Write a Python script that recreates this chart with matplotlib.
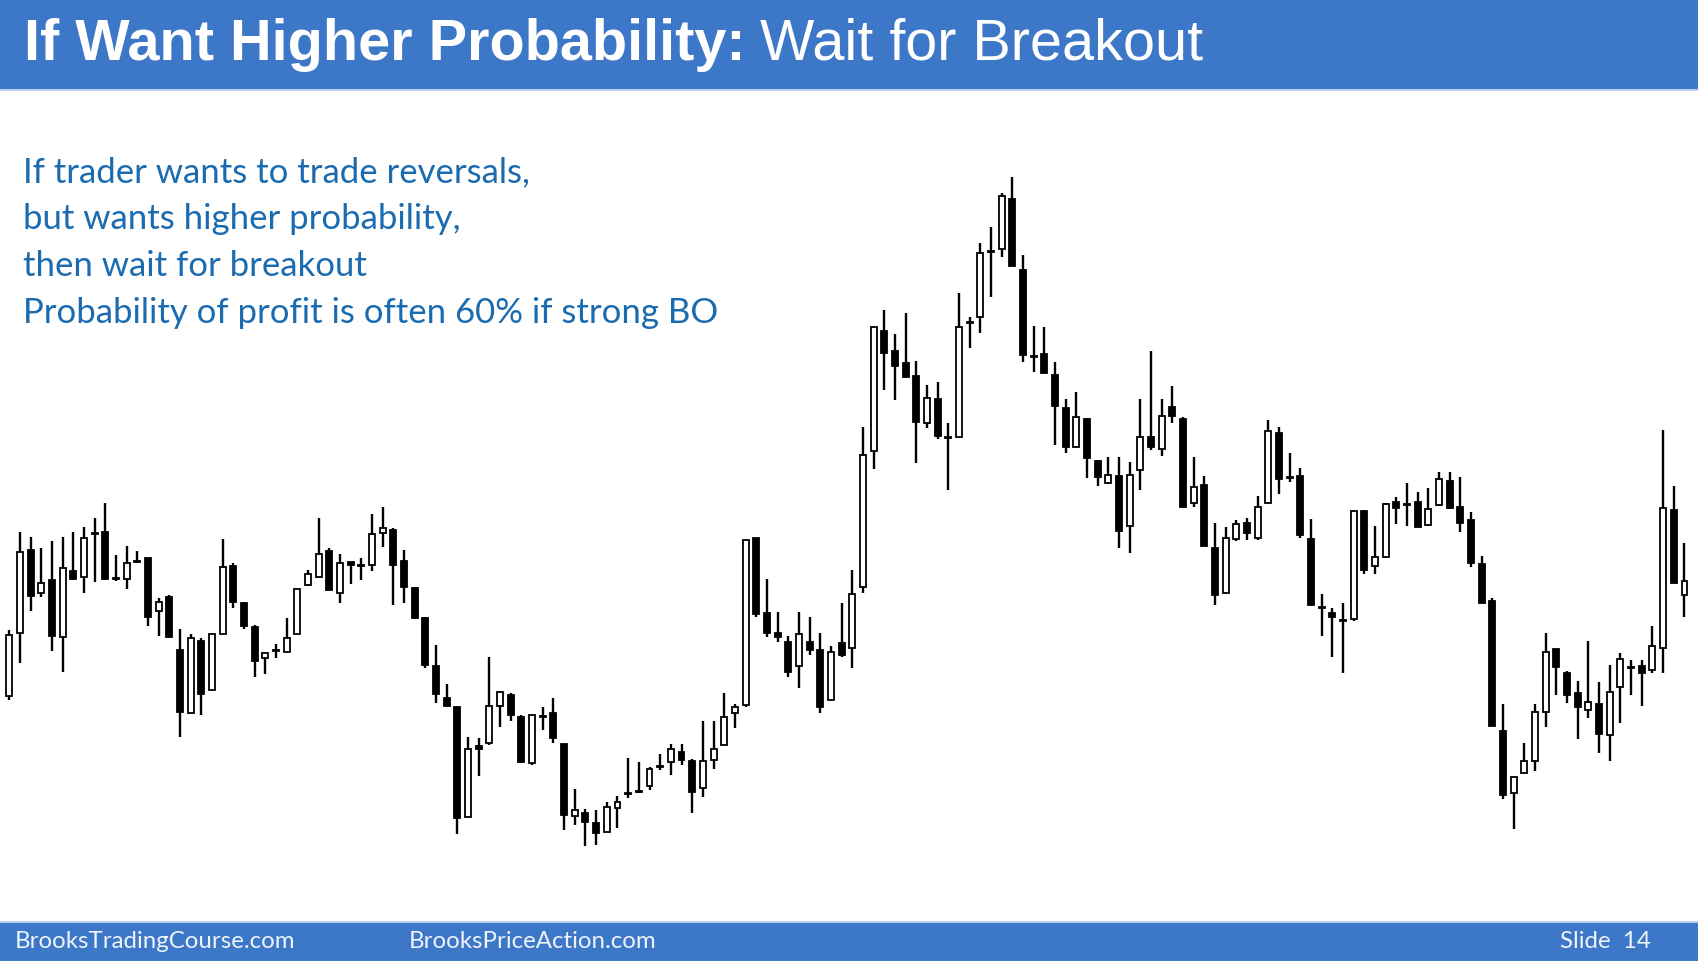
import matplotlib
matplotlib.use('Agg')
import matplotlib.pyplot as plt
from matplotlib.patches import Rectangle
import numpy as np

# OHLC (arbitrary price units)
opens = [304, 367, 450, 407, 420, 363, 429, 423, 466, 468, 422, 421, 438, 442, 389, 403,
         350, 287, 359, 310, 366, 434, 397, 373, 342, 349, 348, 366, 415, 423, 449, 407,
         438, 434, 435, 467, 470, 439, 412, 382, 334, 302, 293, 183, 254, 257, 294, 305,
         283, 237, 283, 287, 256, 184, 187, 177, 168, 192, 206, 208, 214, 233, 238, 248,
         239, 212, 240, 255, 287, 295, 462, 387, 367, 358, 334, 358, 350, 300, 357, 352,
         413, 549, 669, 649, 637, 624, 577, 601, 562, 563, 677, 683, 748, 751, 801, 730,
         643, 646, 625, 592, 553, 581, 539, 517, 524, 474, 530, 563, 551, 593, 581, 497,
         515, 452, 407, 461, 477, 462, 497, 567, 522, 524, 461, 392, 387, 379, 381, 489,
         434, 443, 498, 496, 498, 475, 495, 519, 493, 480, 436, 399, 269, 207, 227, 239,
         288, 351, 327, 307, 290, 296, 265, 313, 332, 334, 330, 352, 490, 405]
highs = [370, 468, 463, 452, 459, 463, 468, 473, 482, 497, 445, 454, 449, 442, 402, 405,
         371, 366, 362, 366, 461, 437, 398, 375, 347, 356, 382, 411, 430, 482, 452, 446,
         438, 442, 486, 493, 472, 450, 413, 383, 355, 316, 293, 263, 262, 343, 309, 307,
         285, 285, 293, 302, 256, 211, 191, 190, 198, 204, 242, 238, 233, 246, 256, 256,
         241, 279, 279, 307, 296, 460, 462, 421, 388, 364, 388, 383, 367, 354, 397, 430,
         573, 673, 690, 666, 687, 639, 615, 618, 577, 707, 683, 757, 773, 807, 823, 745,
         674, 673, 638, 601, 608, 582, 540, 543, 543, 538, 601, 649, 601, 614, 583, 543,
         524, 477, 473, 480, 482, 504, 580, 573, 547, 532, 481, 406, 392, 397, 489, 490,
         474, 497, 503, 517, 508, 512, 528, 528, 523, 488, 444, 402, 296, 223, 257, 296,
         367, 351, 329, 319, 359, 318, 335, 347, 340, 340, 374, 570, 514, 457]
lows = [300, 337, 389, 403, 349, 328, 420, 407, 418, 420, 419, 411, 437, 374, 364, 363,
        263, 287, 285, 310, 366, 392, 371, 323, 326, 342, 348, 366, 414, 423, 410, 397,
        416, 420, 429, 453, 395, 397, 381, 332, 297, 294, 166, 183, 224, 255, 273, 279,
        237, 235, 270, 257, 170, 175, 154, 155, 168, 172, 202, 207, 210, 230, 225, 235,
        187, 203, 231, 255, 272, 293, 383, 363, 358, 323, 312, 345, 287, 300, 343, 332,
        407, 531, 610, 600, 623, 537, 572, 561, 510, 563, 652, 667, 703, 743, 734, 638,
        628, 627, 555, 547, 553, 522, 514, 516, 452, 447, 510, 550, 544, 577, 493, 493,
        454, 395, 407, 459, 460, 460, 497, 506, 518, 462, 395, 364, 343, 327, 379, 426,
        426, 443, 476, 474, 473, 474, 494, 491, 468, 433, 397, 274, 201, 171, 227, 229,
        273, 305, 297, 261, 282, 247, 239, 277, 305, 294, 327, 327, 417, 383]
closes = [365, 448, 404, 417, 364, 432, 421, 462, 467, 421, 421, 437, 438, 383, 398, 363,
          288, 362, 306, 366, 433, 398, 374, 339, 347, 349, 362, 411, 426, 446, 410, 437,
          435, 434, 466, 472, 435, 413, 382, 335, 306, 294, 182, 251, 251, 294, 308, 285,
          238, 285, 283, 262, 185, 190, 178, 167, 193, 198, 206, 208, 231, 233, 251, 240,
          208, 239, 251, 283, 293, 460, 386, 367, 363, 328, 366, 350, 293, 348, 345, 406,
          545, 673, 647, 634, 623, 578, 602, 564, 562, 673, 677, 747, 748, 804, 734, 645,
          643, 627, 594, 553, 583, 542, 523, 525, 469, 525, 563, 553, 584, 584, 493, 513,
          454, 405, 462, 476, 467, 493, 569, 521, 522, 465, 395, 392, 383, 379, 489, 430,
          443, 496, 492, 495, 473, 491, 521, 492, 477, 437, 397, 274, 205, 223, 239, 288,
          348, 333, 305, 293, 298, 266, 308, 341, 332, 327, 354, 492, 417, 419]

title_bold = "If Want Higher Probability:"
title_rest = "Wait for Breakout"
notes = ["If trader wants to trade reversals,",
         "but wants higher probability,",
         "then wait for breakout",
         "Probability of profit is often 60% if strong BO"]
footer_left = "BrooksTradingCourse.com"
footer_mid = "BrooksPriceAction.com"
footer_right = "Slide  14"

W, H = 1698, 961
BAR_BLUE = '#3d77c7'
TEXT_BLUE = '#1a6bb0'

fig = plt.figure(figsize=(W / 100, H / 100), dpi=100)
fig.patch.set_facecolor('white')

# candles
ax = fig.add_axes([0, 0, 1, 1])
ax.axis('off')
o = np.array(opens)
h = np.array(highs)
l = np.array(lows)
c = np.array(closes)
x = np.arange(len(o))
up = c >= o
ax.vlines(x, l, h, color='black', linewidth=1.7, zorder=1)
bottom = np.minimum(o, c)
height = np.maximum(np.abs(c - o), 1)
ax.bar(x, height, bottom=bottom, width=0.56,
       color=np.where(up, 'white', 'black'), edgecolor='black', linewidth=1.3, zorder=2)
step = 10.67
left = -9.3 / step
ax.set_xlim(left, left + W / step)
ax.set_ylim(1000 - H, 1000)

# title bar
fig.patches.append(Rectangle((0, 1 - 89 / H), 1, 89 / H, transform=fig.transFigure,
                             facecolor=BAR_BLUE, edgecolor='none', zorder=0))
fig.patches.append(Rectangle((0, 1 - 91 / H), 1, 2 / H, transform=fig.transFigure,
                             facecolor='#b9cfee', edgecolor='none', zorder=0))
fig.text(24 / W, 1 - 60 / H, title_bold, color='white', fontsize=41.5, fontweight='bold',
         family='Liberation Sans', va='baseline')
fig.text(760 / W, 1 - 60 / H, title_rest, color='white', fontsize=41.5,
         family='Liberation Sans', va='baseline')

# notes
for i, line in enumerate(notes):
    fig.text(23 / W, 1 - (182 + 47 * i) / H, line, color=TEXT_BLUE, fontsize=25,
             family='Lato', va='baseline')

# footer
fig.patches.append(Rectangle((0, 0), 1, 38 / H, transform=fig.transFigure,
                             facecolor=BAR_BLUE, edgecolor='none', zorder=0))
fig.patches.append(Rectangle((0, 38 / H), 1, 2 / H, transform=fig.transFigure,
                             facecolor='#b9cfee', edgecolor='none', zorder=0))
fy = 19 / H
fig.text(15 / W, fy, footer_left, color='#eef3fb', fontsize=17.3, family='Lato', va='center')
fig.text(409 / W, fy, footer_mid, color='#eef3fb', fontsize=17.3, family='Lato', va='center')
fig.text(1560 / W, fy, footer_right, color='#eef3fb', fontsize=17.3, family='Lato', va='center')

fig.savefig('out.png', dpi=100)
plt.close(fig)
